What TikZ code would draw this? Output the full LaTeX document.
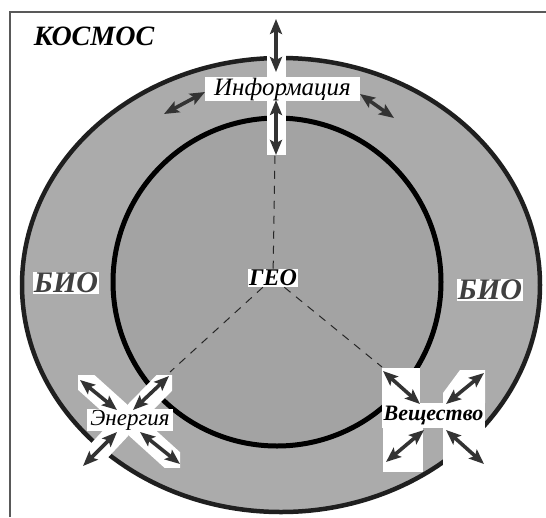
\documentclass[tikz,border=0pt]{standalone}
\usepackage{fontspec}
\setmainfont{Liberation Serif}
\usetikzlibrary{arrows.meta,calc}
\begin{document}
\begin{tikzpicture}[x=1pt,y=-1pt,
  ringline/.style={line width=4.5pt, draw=black!88},
  dbl/.style={draw=black!80, line width=3.6pt, {Stealth[length=15pt,width=12pt,inset=3pt]}-{Stealth[length=15pt,width=12pt,inset=3pt]}},
  cutout/.style={fill=white, draw=none},
  band/.style={draw=white, line width=22pt},
  lbl/.style={fill=white, inner sep=1pt, font=\bfseries\itshape},
  link/.style={draw=black!85, line width=1pt, dash pattern=on 8pt off 7pt}]
\useasboundingbox (0,0) rectangle (546,517);
\fill[white] (0,0) rectangle (546,517);
\draw[black!65, line width=1.5pt] (10,517) -- (10,12) -- (546,12);
% spheres
\filldraw[fill=black!33, ringline] (281,285) ellipse [x radius=259, y radius=227];
\filldraw[fill=black!36, draw=black, line width=5pt] (277,282) circle [radius=164];
% Information cut-out
\fill[cutout] (267,14) rectangle (286,155);
% Energy cut-out
\foreach \cx/\cy in {78/375, 172/375, 84/467, 180/467}{
  \begin{scope}
    \clip (\cx,\cy) rectangle (128,420);
    \draw[band] ($(\cx,\cy)!-0.3!(128,420)$) -- ($(128,420)!-0.3!(\cx,\cy)$);
  \end{scope}
}
% Matter cut-out
\fill[cutout] (382,368) rectangle (420,403);
\fill[cutout] (443,403) -- (443,393) -- (460,370) -- (485,370) -- (485,403) -- cycle;
\fill[cutout] (383,428) rectangle (423,472);
\fill[cutout] (443,428) rectangle (485,476);
% labels
\node[lbl, font=\bfseries\itshape\fontsize{28}{28}\selectfont, fill=none] (kosmos) at (94,36) {КОСМОС};
\node[lbl, font=\itshape\fontsize{25}{25}\selectfont, minimum width=155pt, minimum height=22pt] (info) at (282.5,89) {Информация};
\node[lbl, font=\bfseries\itshape\fontsize{24}{24}\selectfont] (geo) at (273,278) {ГЕО};
\node[lbl, text=black!75, font=\bfseries\itshape\fontsize{30}{30}\selectfont] (bioL) at (66,283) {БИО};
\node[lbl, text=black!75, font=\bfseries\itshape\fontsize{30}{30}\selectfont] (bioR) at (490,290) {БИО};
\node[lbl, font=\itshape\fontsize{23}{23}\selectfont, minimum width=86pt, minimum height=20pt] (energy) at (130,420) {Энергия};
\node[lbl, font=\bfseries\itshape\fontsize{22}{22}\selectfont, minimum width=103pt, minimum height=25pt] (matter) at (433.5,415.5) {Вещество};
% links to the centre
\coordinate (iv) at (275,155);
\coordinate (gl) at (170,372);
\coordinate (gr) at (382,367);
\draw[link] (geo) -- (iv);
\draw[link] (geo) -- (gl);
\draw[link] (geo) -- (gr);
% information arrows
\coordinate (i1a) at (276,19);  \coordinate (i1b) at (276,72);
\coordinate (i2a) at (276,100); \coordinate (i2b) at (276,155);
\coordinate (i3a) at (164,114); \coordinate (i3b) at (205,92);
\coordinate (i4a) at (360,94);  \coordinate (i4b) at (394,118);
\draw[dbl] (i1a) -- (i1b);
\draw[dbl] (i2a) -- (i2b);
\draw[dbl] (i3a) -- (i3b);
\draw[dbl] (i4a) -- (i4b);
% energy arrows
\coordinate (e1a) at (80,380);  \coordinate (e1b) at (117,410);
\coordinate (e2a) at (133,410); \coordinate (e2b) at (169,376);
\coordinate (e3a) at (117,432); \coordinate (e3b) at (83,466);
\coordinate (e4a) at (140,432); \coordinate (e4b) at (180,464);
\draw[dbl] (e1a) -- (e1b);
\draw[dbl] (e2a) -- (e2b);
\draw[dbl] (e3a) -- (e3b);
\draw[dbl] (e4a) -- (e4b);
% matter arrows
\coordinate (m1a) at (383,371); \coordinate (m1b) at (420,404);
\coordinate (m2a) at (446,404); \coordinate (m2b) at (484,373);
\coordinate (m3a) at (424,430); \coordinate (m3b) at (386,462);
\coordinate (m4a) at (446,430); \coordinate (m4b) at (484,464);
\draw[dbl] (m1a) -- (m1b);
\draw[dbl] (m2a) -- (m2b);
\draw[dbl] (m3a) -- (m3b);
\draw[dbl] (m4a) -- (m4b);
\end{tikzpicture}
\end{document}
